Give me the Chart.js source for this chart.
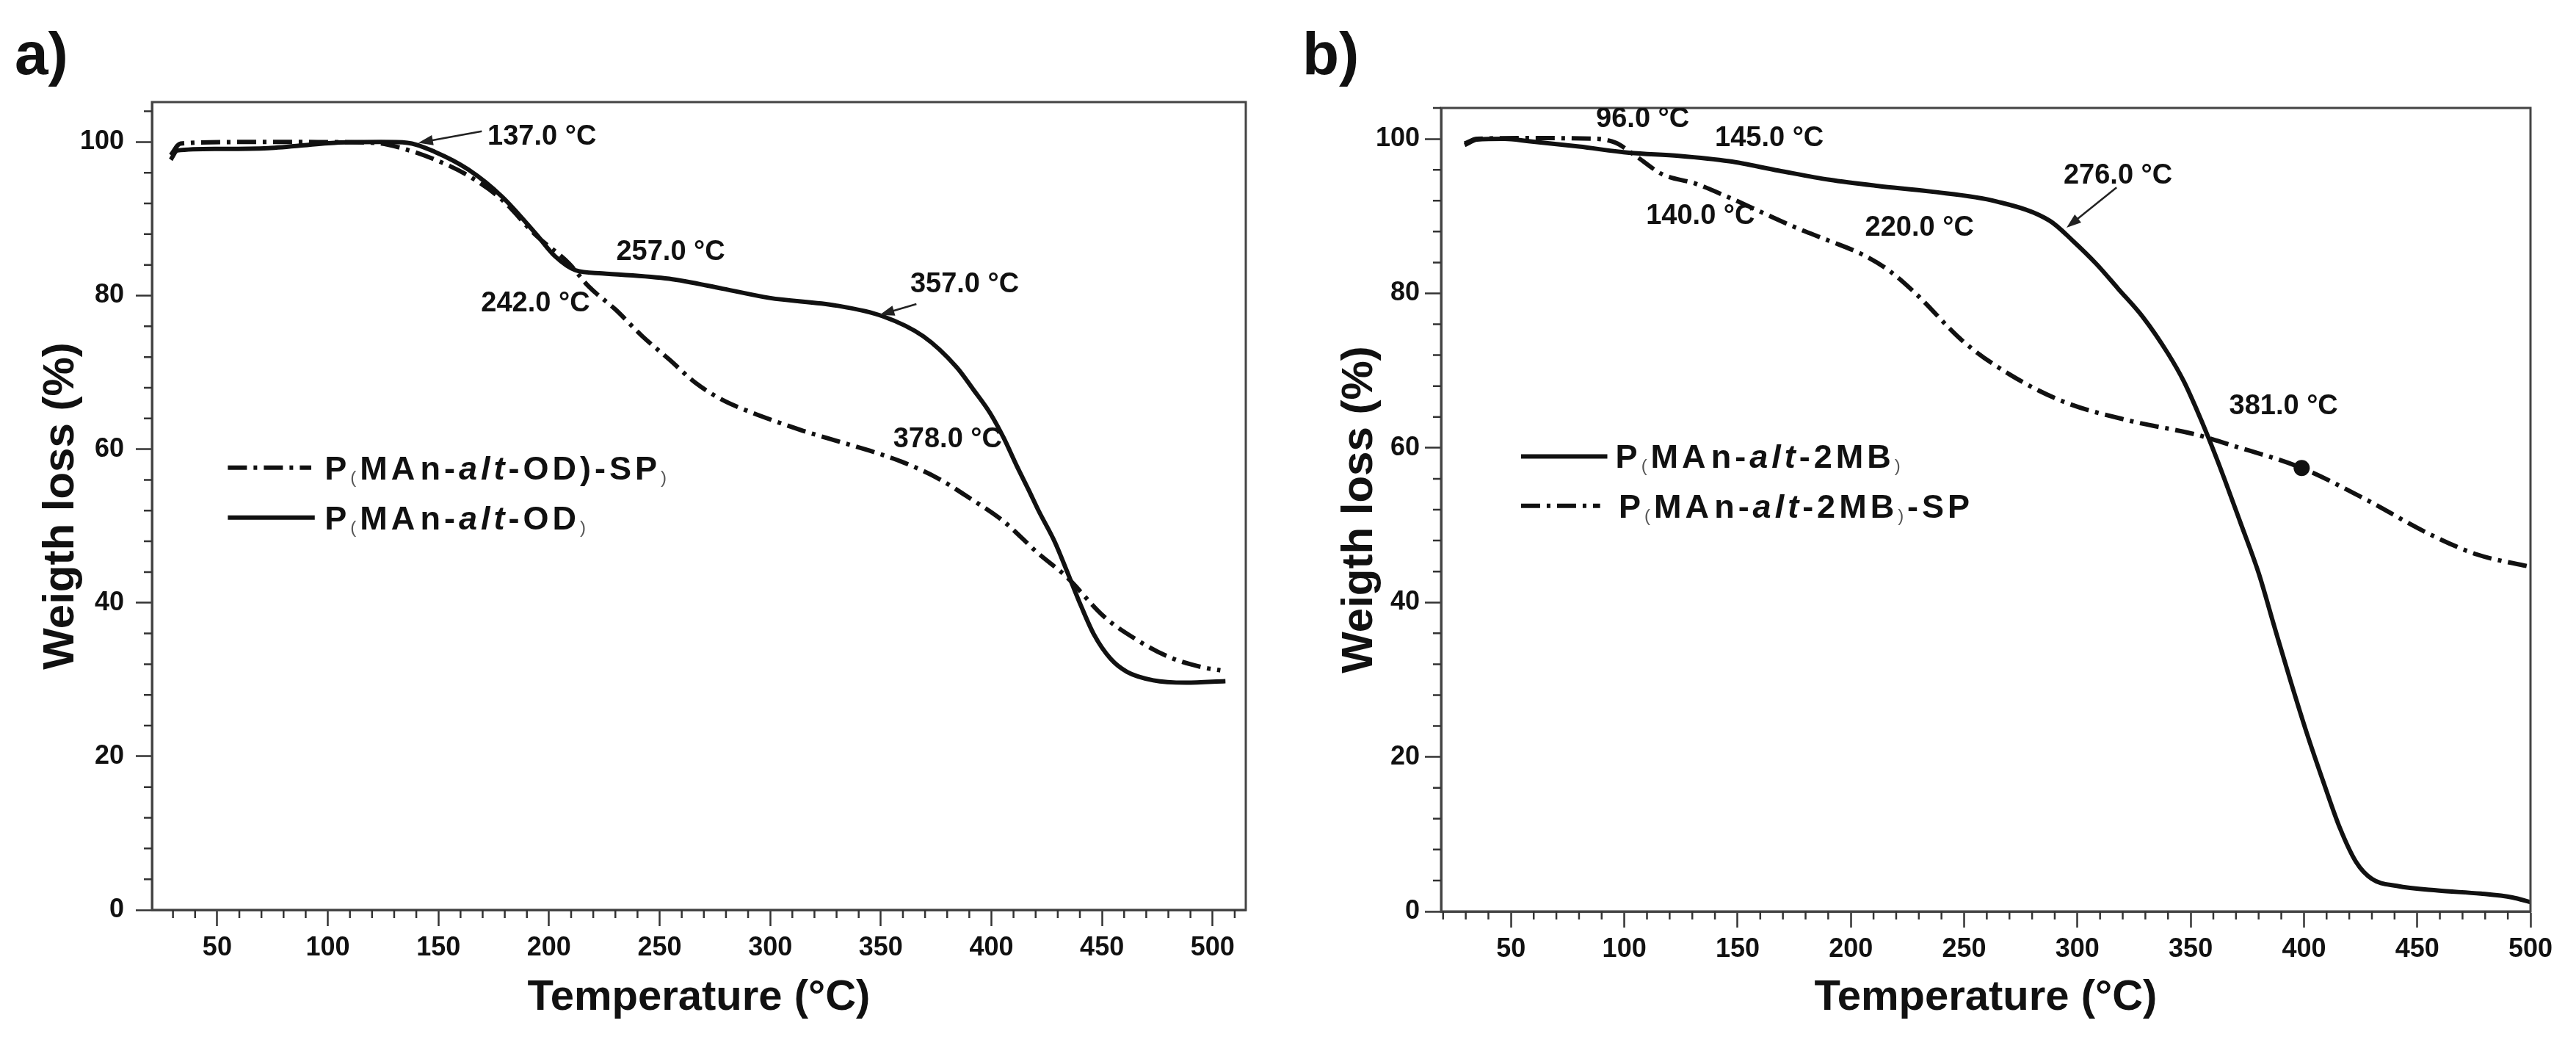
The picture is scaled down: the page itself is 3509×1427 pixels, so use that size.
<!DOCTYPE html>
<html lang="en">
<head>
<meta charset="UTF-8">
<title>TGA curves</title>
<script src="https://cdn.jsdelivr.net/npm/chart.js"></script>
<style>
  html, body { margin: 0; padding: 0; background: #fff; }
  body { width: 3509px; height: 1427px; position: relative; overflow: hidden; }
  canvas { position: absolute; top: 0; }
  #chartA { left: 0; }
  #chartB { left: 1754px; }
</style>
</head>
<body>
<canvas id="chartA" width="1754" height="1427"></canvas>
<canvas id="chartB" width="1755" height="1427"></canvas>
<script>
// ---- data ----
// panel a
const aTempPure = [29, 32, 50, 73, 103, 124, 136, 148.5, 163.6, 178.7, 193.9, 202.8, 212, 224, 254.3, 278.5, 299.6, 329.9, 351, 369.2, 384.2, 392, 399.4, 405.5, 411.5, 417, 421.3, 428.7, 433.9, 440.5, 446.3, 453.9, 461.3, 473.2, 488, 505.8];
const aWeightPure = [97.7, 98.9, 99.1, 99.2, 99.9, 100.0, 99.9, 98.7, 96.4, 92.9, 88.1, 85.1, 83.3, 82.9, 82.2, 80.9, 79.7, 78.7, 77.3, 74.7, 70.7, 67.7, 64.7, 61.5, 57.8, 54.6, 52.0, 47.9, 44.3, 39.6, 35.9, 32.7, 31.0, 29.9, 29.6, 29.8];
const aTempSP = [29, 33.4, 60, 90, 121, 133.4, 148.5, 163.6, 178.7, 193.9, 209, 217.9, 230, 242.2, 254.3, 266.4, 278.5, 290.5, 302.6, 314.8, 329.8, 345, 360, 375.2, 390.3, 405.5, 421.3, 433.9, 450.9, 465.6, 480.6, 495.4, 503.5];
const aWeightSP = [98.3, 99.8, 100.0, 100.0, 99.9, 99.2, 97.7, 95.6, 92.5, 87.9, 84.2, 81.2, 78.2, 74.7, 71.7, 68.6, 66.4, 64.9, 63.6, 62.4, 61.1, 59.8, 58.3, 56.3, 53.6, 50.6, 46.4, 43.4, 38.2, 35.2, 32.9, 31.6, 31.2];

// panel b
const bTempPure = [29.5, 35, 47, 57.7, 80, 102.1, 124, 146.3, 168, 190.6, 212, 234.8, 264.3, 287.8, 298, 308.4, 318, 329, 340, 347, 352, 358, 365, 372, 380, 387, 394, 401, 409, 416, 423, 430, 441, 459, 478, 492, 500];
const bWeightPure = [99.2, 99.9, 100.0, 99.7, 99.0, 98.2, 97.8, 97.1, 95.9, 94.7, 93.9, 93.2, 91.9, 89.4, 86.8, 83.8, 80.6, 76.9, 72.2, 68.6, 65.4, 61.2, 55.9, 50.3, 43.8, 36.8, 29.9, 23.3, 16.4, 10.7, 6.4, 4.2, 3.3, 2.7, 2.3, 1.8, 1.2];
const bTempSP = [29.5, 35, 57.7, 88, 96.1, 105, 116.9, 131.5, 146.3, 175.8, 190.5, 205.3, 217.1, 228.9, 249.5, 270.1, 293.7, 323.2, 352.7, 367.4, 399, 426.2, 455.7, 476.4, 500];
const bWeightSP = [99.4, 100.0, 100.1, 100.0, 99.5, 97.8, 95.4, 94.2, 92.4, 88.5, 86.8, 85.0, 82.9, 79.9, 73.8, 69.5, 66.0, 63.5, 61.7, 60.4, 57.4, 53.5, 48.8, 46.2, 44.6];
const bMarkTemp = [399];
const bMarkWeight = [57.4];

// ticks
const xTickLabels = [50, 100, 150, 200, 250, 300, 350, 400, 450, 500];
const yTickLabels = [0, 20, 40, 60, 80, 100];

// temperature labels written on the curves
const aNotes = ['137.0 °C', '257.0 °C', '242.0 °C', '357.0 °C', '378.0 °C'];
const bNotes = ['96.0 °C', '145.0 °C', '276.0 °C', '140.0 °C', '220.0 °C', '381.0 °C'];

// series names, as [text, style] pieces (b bold, i bold italic, s small paren, g small gap)
const aNamePure = [['P', 'b'], ['(', 's'], ['MA', 'b'], [' ', 'g'], ['n-', 'b'], ['alt', 'i'], ['-OD', 'b'], [')', 's']];
const aNameSP = [['P', 'b'], ['(', 's'], ['MA', 'b'], [' ', 'g'], ['n-', 'b'], ['alt', 'i'], ['-OD)-SP', 'b'], [')', 's']];
const bNamePure = [['P', 'b'], ['(', 's'], ['MA', 'b'], [' ', 'g'], ['n-', 'b'], ['alt', 'i'], ['-2MB', 'b'], [')', 's']];
const bNameSP = [['P', 'b'], ['(', 's'], ['MA', 'b'], [' ', 'g'], ['n-', 'b'], ['alt', 'i'], ['-2MB', 'b'], [')', 's'], ['-SP', 'b']];

// ---- drawing ----
const FONT = "'Liberation Sans', Arial, Helvetica, sans-serif";
const INK = '#111';
const DASHDOT = [26, 9, 5, 9];

const pts = (xs, ys) => xs.map((x, i) => ({ x: x, y: ys[i] }));

function lineSet(label, xs, ys, dashed) {
  return {
    label: label,
    data: pts(xs, ys),
    showLine: true,
    borderColor: INK,
    borderWidth: 6,
    borderDash: dashed ? DASHDOT : [],
    pointRadius: 0,
    cubicInterpolationMode: 'monotone',
    fill: false
  };
}

const pieceFont = {
  b: 'bold 45px ' + FONT,
  i: 'italic bold 45px ' + FONT,
  s: '24px ' + FONT,
  g: '8px ' + FONT
};

function drawName(ctx, pieces, x, y) {
  ctx.textAlign = 'left';
  ctx.textBaseline = 'alphabetic';
  pieces.forEach(([t, st]) => {
    ctx.letterSpacing = st === 'g' ? '0px' : '5px';
    ctx.font = pieceFont[st];
    ctx.fillStyle = st === 's' ? '#555' : INK;
    ctx.fillText(t, x, y + (st === 's' ? 5 : 0));
    x += ctx.measureText(t).width;
  });
  ctx.letterSpacing = '0px';
}

function arrow(ctx, x0, y0, x1, y1) {
  const ang = Math.atan2(y1 - y0, x1 - x0);
  ctx.lineWidth = 2.5;
  ctx.strokeStyle = '#222';
  ctx.fillStyle = '#222';
  ctx.beginPath();
  ctx.moveTo(x0, y0);
  ctx.lineTo(x1 - 14 * Math.cos(ang), y1 - 14 * Math.sin(ang));
  ctx.stroke();
  ctx.beginPath();
  ctx.moveTo(x1, y1);
  ctx.lineTo(x1 - 20 * Math.cos(ang) + 7 * Math.sin(ang), y1 - 20 * Math.sin(ang) - 7 * Math.cos(ang));
  ctx.lineTo(x1 - 20 * Math.cos(ang) - 7 * Math.sin(ang), y1 - 20 * Math.sin(ang) + 7 * Math.cos(ang));
  ctx.closePath();
  ctx.fill();
}

function makeDeco(p) {
  return {
    id: 'deco',
    afterDraw(chart) {
      const ctx = chart.ctx, a = chart.chartArea;
      const xs = chart.scales.x, ys = chart.scales.y;
      const X = v => xs.getPixelForValue(v), Y = v => ys.getPixelForValue(v);
      ctx.save();

      // frame
      ctx.strokeStyle = '#444';
      ctx.lineWidth = 3;
      ctx.strokeRect(a.left, a.top, a.right - a.left, a.bottom - a.top);

      // minor ticks
      ctx.strokeStyle = '#333';
      ctx.lineWidth = 2.5;
      ctx.beginPath();
      for (let v = Math.ceil(xs.min / 10) * 10; v <= xs.max; v += 10) {
        if (v % 50 === 0) continue;
        ctx.moveTo(X(v), a.bottom);
        ctx.lineTo(X(v), a.bottom + 11);
      }
      for (let v = 4; v <= ys.max + 0.01; v += 4) {
        if (v % 20 === 0) continue;
        ctx.moveTo(a.left - 11, Y(v));
        ctx.lineTo(a.left, Y(v));
      }
      ctx.stroke();

      // notes on the curves
      ctx.save();
      ctx.beginPath();
      ctx.rect(a.left, a.top, a.right - a.left, a.bottom - a.top);
      ctx.clip();
      ctx.font = 'bold 38px ' + FONT;
      ctx.fillStyle = INK;
      ctx.textAlign = 'center';
      ctx.textBaseline = 'middle';
      p.notes.forEach((t, i) => ctx.fillText(t, X(p.noteAt[i][0]), Y(p.noteAt[i][1])));
      p.arrows.forEach(r => arrow(ctx, X(r[0]), Y(r[1]), X(r[2]), Y(r[3])));
      ctx.restore();

      // legend
      p.legend.forEach(e => {
        ctx.strokeStyle = INK;
        ctx.lineWidth = 6;
        ctx.setLineDash(e.dashed ? DASHDOT : []);
        ctx.beginPath();
        ctx.moveTo(X(e.x0), Y(e.y));
        ctx.lineTo(X(e.x1), Y(e.y));
        ctx.stroke();
        ctx.setLineDash([]);
        drawName(ctx, e.name, X(e.tx), Y(e.y) + 16);
      });

      // panel letter
      ctx.font = 'bold 82px ' + FONT;
      ctx.fillStyle = INK;
      ctx.textAlign = 'left';
      ctx.textBaseline = 'alphabetic';
      ctx.fillText(p.letter, 20, 101);
      ctx.restore();
    }
  };
}

function buildPanel(id, p) {
  new Chart(document.getElementById(id), {
    type: 'scatter',
    data: { datasets: p.datasets },
    options: {
      responsive: false,
      animation: false,
      devicePixelRatio: 1,
      layout: { padding: { left: 0, top: p.top, right: p.right, bottom: 0 } },
      plugins: { legend: { display: false }, tooltip: { enabled: false } },
      scales: {
        x: {
          type: 'linear',
          min: p.xMin,
          max: p.xMax,
          afterBuildTicks: s => { s.ticks = xTickLabels.map(v => ({ value: v })); },
          afterFit: s => { s.height = p.xAxisH; },
          ticks: { font: { family: FONT, size: 36, weight: 'bold' }, color: INK, padding: 8, maxRotation: 0, autoSkip: false },
          grid: { display: true, drawOnChartArea: false, drawTicks: true, tickLength: 22, tickWidth: 2.5, tickColor: '#333' },
          border: { display: true, width: 3, color: '#444' },
          title: { display: true, text: 'Temperature (°C)', color: INK, font: { family: FONT, size: 58, weight: 'bold' }, padding: { top: 0, bottom: 33 } }
        },
        y: {
          type: 'linear',
          min: 0,
          max: p.yMax,
          afterBuildTicks: s => { s.ticks = yTickLabels.map(v => ({ value: v })); },
          afterFit: s => { s.width = p.yAxisW; },
          ticks: { font: { family: FONT, size: 36, weight: 'bold' }, color: INK, padding: p.yPad },
          grid: { display: true, drawOnChartArea: false, drawTicks: true, tickLength: 22, tickWidth: 2.5, tickColor: '#333' },
          border: { display: true, width: 3, color: '#444' },
          title: { display: true, text: 'Weigth loss (%)', color: INK, font: { family: FONT, size: 60, weight: 'bold' }, padding: { top: p.yTitlePad, bottom: 0 } }
        }
      }
    },
    plugins: [makeDeco(p)]
  });
}

buildPanel('chartA', {
  letter: 'a)',
  xMin: 20.5, xMax: 515, yMax: 105.2,
  top: 139, right: 57, yAxisW: 207, xAxisH: 188, yPad: 16, yTitlePad: 47,
  datasets: [
    lineSet('P(MAn-alt-OD)-SP)', aTempSP, aWeightSP, true),
    lineSet('P(MAn-alt-OD)', aTempPure, aWeightPure, false)
  ],
  notes: aNotes,
  noteAt: [[196.8, 100.7], [255, 85.6], [193.9, 78.9], [387.9, 81.4], [380.2, 61.3]],
  arrows: [[169.6, 101.4, 140.9, 99.9], [366.1, 78.9, 349.5, 77.5]],
  legend: [
    { name: aNameSP, dashed: true, x0: 54.8, x1: 92.5, tx: 98.6, y: 57.6 },
    { name: aNamePure, dashed: false, x0: 54.8, x1: 94.1, tx: 98.6, y: 51.1 }
  ]
});

buildPanel('chartB', {
  letter: 'b)',
  xMin: 19.1, xMax: 500, yMax: 104,
  top: 147, right: 62, yAxisW: 209, xAxisH: 186, yPad: 7, yTitlePad: 62,
  datasets: [
    lineSet('P(MAn-alt-2MB)', bTempPure, bWeightPure, false),
    lineSet('P(MAn-alt-2MB)-SP', bTempSP, bWeightSP, true),
    {
      label: 'mark',
      data: pts(bMarkTemp, bMarkWeight),
      showLine: false,
      pointRadius: 11,
      pointBackgroundColor: INK,
      pointBorderWidth: 0
    }
  ],
  notes: bNotes,
  noteAt: [[108.1, 102.5], [164, 100.1], [317.9, 95.2], [133.6, 90.0], [230.3, 88.5], [391, 65.4]],
  arrows: [[317.3, 93.7, 295.2, 88.5]],
  legend: [
    { name: bNamePure, dashed: false, x0: 54.4, x1: 92.5, tx: 96.1, y: 58.9 },
    { name: bNameSP, dashed: true, x0: 54.4, x1: 89.3, tx: 97.5, y: 52.5 }
  ]
});
</script>
</body>
</html>
